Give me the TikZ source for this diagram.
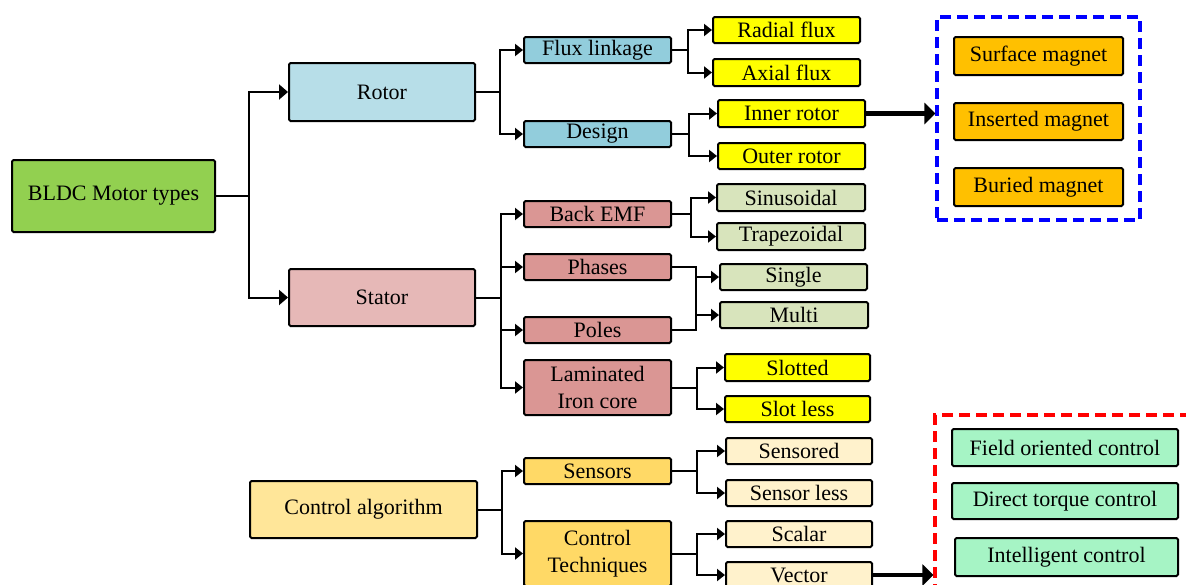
\documentclass[tikz,border=0pt]{standalone}
\usepackage{fontspec}
\setmainfont{Liberation Serif}
\usetikzlibrary{arrows.meta}

\definecolor{cMain}{HTML}{92D050}
\definecolor{cRotor}{HTML}{B7DEE8}
\definecolor{cRotorSub}{HTML}{92CDDC}
\definecolor{cYellow}{HTML}{FFFF00}
\definecolor{cMagnet}{HTML}{FFC000}
\definecolor{cStator}{HTML}{E6B8B7}
\definecolor{cStatorSub}{HTML}{DA9694}
\definecolor{cOlive}{HTML}{D8E4BC}
\definecolor{cCtrl}{HTML}{FFE699}
\definecolor{cCtrlSub}{HTML}{FFD966}
\definecolor{cCtrlLeaf}{HTML}{FFF2CC}
\definecolor{cMint}{HTML}{A6F4C5}

\tikzset{
  box/.style={draw=black, line width=2pt, rounded corners=1.5pt, inner sep=0pt,
    align=center, font=\fontsize{22}{27}\selectfont},
  conn/.style={draw=black, line width=2pt},
  arr/.style={conn, -{Triangle[length=8pt,width=12pt]}},
  bigarr/.style={conn, -{Triangle[length=9pt,width=15pt]}},
  heavyarr/.style={draw=black, line width=4.8pt, -{Triangle[length=11pt,width=21pt]}},
  group/.style={draw, line width=3.2pt, dash pattern=on 11pt off 6pt, inner sep=0pt},
}

\begin{document}
\begin{tikzpicture}[x=1pt,y=-1pt]
\useasboundingbox (0,0) rectangle (1186,584);

% root
\node[box, fill=cMain, minimum width=203, minimum height=72] (bldc) at (113.5,196) {BLDC Motor types};

% rotor branch
\node[box, fill=cRotor, minimum width=186, minimum height=58] (rotor) at (382,92) {Rotor};
\node[box, fill=cRotorSub, minimum width=147, minimum height=26] (flux) at (597.5,50) {Flux linkage};
\node[box, fill=cRotorSub, minimum width=147, minimum height=26] (design) at (597.5,134) {Design};
\node[box, fill=cYellow, minimum width=147, minimum height=26] (radial) at (786.5,30) {Radial flux};
\node[box, fill=cYellow, minimum width=147, minimum height=27] (axial) at (786.5,72.5) {Axial flux};
\node[box, fill=cYellow, minimum width=147, minimum height=27] (inner) at (791.5,113.5) {Inner rotor};
\node[box, fill=cYellow, minimum width=147, minimum height=26] (outer) at (791.5,156) {Outer rotor};

% magnet placement group
\node[group, draw=blue, minimum width=203, minimum height=203] (magnets) at (1038.5,118.5) {};
\node[box, fill=cMagnet, minimum width=169, minimum height=38] (surface) at (1038.5,56) {Surface magnet};
\node[box, fill=cMagnet, minimum width=169, minimum height=37] (inserted) at (1038.5,121.5) {Inserted magnet};
\node[box, fill=cMagnet, minimum width=169, minimum height=38] (buried) at (1038.5,187) {Buried magnet};

% stator branch
\node[box, fill=cStator, minimum width=186, minimum height=57] (stator) at (382,297.5) {Stator};
\node[box, fill=cStatorSub, minimum width=147, minimum height=26] (backemf) at (597.5,214) {Back EMF};
\node[box, fill=cStatorSub, minimum width=147, minimum height=26] (phases) at (597.5,267) {Phases};
\node[box, fill=cStatorSub, minimum width=147, minimum height=26] (poles) at (597.5,330) {Poles};
\node[box, fill=cStatorSub, minimum width=147, minimum height=55] (core) at (597.5,387.5) {Laminated\\Iron core};
\node[box, fill=cOlive, minimum width=148, minimum height=27] (sinus) at (791,197.5) {Sinusoidal};
\node[box, fill=cOlive, minimum width=148, minimum height=27] (trap) at (791,236.5) {Trapezoidal};
\node[box, fill=cOlive, minimum width=147, minimum height=26] (single) at (793.5,277) {Single};
\node[box, fill=cOlive, minimum width=148, minimum height=26] (multi) at (794,315) {Multi};
\node[box, fill=cYellow, minimum width=145, minimum height=27] (slotted) at (797.5,367.5) {Slotted};
\node[box, fill=cYellow, minimum width=145, minimum height=26] (slotless) at (797.5,409) {Slot less};

% control branch
\node[box, fill=cCtrl, minimum width=227, minimum height=57] (ctrl) at (363.5,509.5) {Control algorithm};
\node[box, fill=cCtrlSub, minimum width=147, minimum height=26] (sensors) at (597.5,471) {Sensors};
\node[box, fill=cCtrlSub, minimum width=147, minimum height=65] (tech) at (597.5,553.5) {Control\\Techniques};
\node[box, fill=cCtrlLeaf, minimum width=146, minimum height=26] (sensored) at (799,451) {Sensored};
\node[box, fill=cCtrlLeaf, minimum width=146, minimum height=26] (sensorless) at (799,493) {Sensor less};
\node[box, fill=cCtrlLeaf, minimum width=146, minimum height=26] (scalar) at (799,534) {Scalar};
\node[box, fill=cCtrlLeaf, minimum width=146, minimum height=26] (vector) at (799,575) {Vector};

% vector control methods group
\node[group, draw=red, minimum width=265, minimum height=185] (methods) at (1067.5,507.5) {};
\node[box, fill=cMint, minimum width=226, minimum height=37] (foc) at (1065,447.5) {Field oriented control};
\node[box, fill=cMint, minimum width=226, minimum height=36] (dtc) at (1065,501) {Direct torque control};
\node[box, fill=cMint, minimum width=223, minimum height=38] (intel) at (1066.5,557) {Intelligent control};

% junction points
\coordinate (jRoot) at (249,196);
\coordinate (jRotor) at (500,92);
\coordinate (jFlux) at (688,50);
\coordinate (jDesign) at (689,134);
\coordinate (jStator) at (501,297.5);
\coordinate (jEmf) at (691,214);
\coordinate (jPhase) at (696,267);
\coordinate (jCore) at (697,387.5);
\coordinate (jCtrl) at (502,509.5);
\coordinate (jSens) at (697,471);
\coordinate (jTech) at (697,553.5);

% root connectors
\draw[conn] (bldc.east) -- (jRoot);
\draw[bigarr] (jRoot) |- (rotor.west);
\draw[bigarr] (jRoot) |- (stator.west);

% rotor connectors
\draw[conn] (rotor.east) -- (jRotor);
\draw[arr] (jRotor) |- (flux.west);
\draw[arr] (jRotor) |- (design.west);
\draw[conn] (flux.east) -- (jFlux);
\draw[arr] (jFlux) |- (radial.west);
\draw[arr] (jFlux) |- (axial.west);
\draw[conn] (design.east) -- (jDesign);
\draw[arr] (jDesign) |- (inner.west);
\draw[arr] (jDesign) |- (outer.west);
\draw[heavyarr] (inner.east) -- (inner.east -| magnets.west);

% stator connectors
\draw[conn] (stator.east) -- (jStator);
\draw[arr] (jStator) |- (backemf.west);
\draw[arr] (jStator) |- (phases.west);
\draw[arr] (jStator) |- (poles.west);
\draw[arr] (jStator) |- (core.west);
\draw[conn] (backemf.east) -- (jEmf);
\draw[arr] (jEmf) |- (sinus.west);
\draw[arr] (jEmf) |- (trap.west);
\draw[conn] (phases.east) -- (jPhase) |- (poles.east);
\draw[arr] (jPhase |- single.west) -- (single.west);
\draw[arr] (jPhase |- multi.west) -- (multi.west);
\draw[conn] (core.east) -- (jCore);
\draw[arr] (jCore) |- (slotted.west);
\draw[arr] (jCore) |- (slotless.west);

% control connectors
\draw[conn] (ctrl.east) -- (jCtrl);
\draw[arr] (jCtrl) |- (sensors.west);
\draw[arr] (jCtrl) |- (tech.west);
\draw[conn] (sensors.east) -- (jSens);
\draw[arr] (jSens) |- (sensored.west);
\draw[arr] (jSens) |- (sensorless.west);
\draw[conn] (tech.east) -- (jTech);
\draw[arr] (jTech) |- (scalar.west);
\draw[arr] (jTech) |- (vector.west);
\draw[heavyarr] (vector.east) -- (vector.east -| methods.west);
\end{tikzpicture}
\end{document}
